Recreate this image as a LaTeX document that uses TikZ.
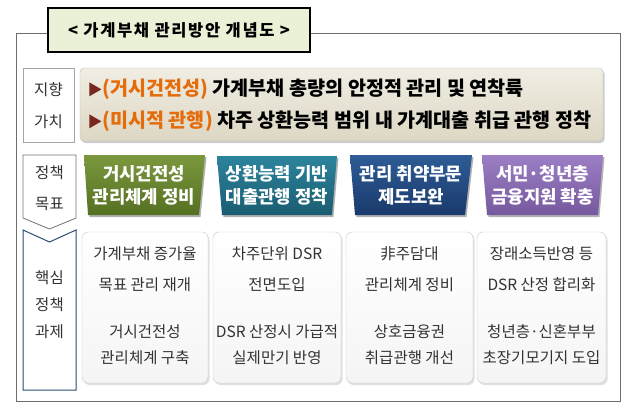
\documentclass[tikz,border=0pt]{standalone}
\usepackage{fontspec}
\setmainfont{Noto Sans CJK KR}
\newfontfamily\titlefont[LetterSpace=10]{Noto Sans CJK KR}
\usepackage{xcolor}
\usetikzlibrary{positioning}
\definecolor{titlegreen}{RGB}{235,241,214}
\definecolor{framegray}{RGB}{110,110,110}
\definecolor{bannertop}{RGB}{240,237,227}
\definecolor{bannerbot}{RGB}{221,215,196}
\definecolor{markred}{RGB}{120,40,30}
\definecolor{tagorange}{RGB}{228,108,10}
\definecolor{txtgray}{RGB}{50,50,50}
\definecolor{labelblue}{RGB}{45,75,115}
\definecolor{macrotop}{RGB}{124,152,62}
\definecolor{macrobot}{RGB}{84,112,34}
\definecolor{loantop}{RGB}{44,132,156}
\definecolor{loanbot}{RGB}{26,92,114}
\definecolor{weaktop}{RGB}{46,92,150}
\definecolor{weakbot}{RGB}{26,58,108}
\definecolor{youthtop}{RGB}{156,126,196}
\definecolor{youthbot}{RGB}{118,88,158}
\newcommand{\valmark}{{\color{markred}\fontsize{15}{20}\selectfont▶}}
\tikzset{
  % 그림자
  shadowed/.style={preaction={fill=black, opacity=#1, transform canvas={shift={(1.5pt,-2pt)}}}},
  shadowed/.default=0.3,
  % 제목 상자
  titlebox/.style={
    draw=black,
    line width=1.2pt,
    fill=titlegreen,
    minimum width=262pt,
    minimum height=44pt,
    font=\titlefont\fontsize{16.5}{18}\selectfont\bfseries
  },
  % 왼쪽 구분 라벨
  rowlab/.style={text=txtgray, align=center},
  % 지향가치 띠
  banner/.style={
    draw=black!25,
    rounded corners=4pt,
    top color=bannertop,
    bottom color=bannerbot,
    minimum width=523pt,
    minimum height=73pt,
    shadowed=0.2
  },
  vline/.style={anchor=west, font=\fontsize{19.6}{20}\selectfont\bfseries},
  % 정책목표 글자
  goaltext/.style={
    align=center,
    text=white,
    font=\fontsize{17.8}{23}\selectfont\bfseries
  },
  % 핵심과제 카드
  card/.style={
    draw=black!22,
    rounded corners=6pt,
    top color=white,
    bottom color=black!4,
    minimum height=151pt,
    shadowed=0.12
  },
  task/.style={text=txtgray, align=center, font=\fontsize{15.5}{31}\selectfont},
  task2/.style={task, font=\fontsize{15.5}{26}\selectfont},
}

\begin{document}
\begin{tikzpicture}[x=1pt, y=-1pt]
    \useasboundingbox (0,0) rectangle (640,415);

    % 바깥 틀과 제목
    \draw[framegray, line width=0.8pt] (16,33) rectangle (620,401);
    \node[titlebox] (title) at (179,30) {< 가계부채 관리방안 개념도 >};

    % Row 1: 지향가치
    \draw[black!35, fill=white] (23,68) rectangle (74,142);
    \node[rowlab, font=\fontsize{15.5}{32}\selectfont] (lab1) at (48.5,106) {지향\\가치};
    \node[banner] (vals) at (341.5,104.5) {};
    \node[vline] (v1) at (84,89) {\valmark{\color{tagorange}(거시건전성)} 가계부채 총량의 안정적 관리 및 연착륙};
    \node[vline] (v2) at (84,121) {\valmark{\color{tagorange}(미시적 관행)} 차주 상환능력 범위 내 가계대출 취급 관행 정착};

    % Row 2: 정책목표
    \draw[black!55, line width=0.8pt, fill=white] (23,155) -- (76,155) -- (76,218) -- (49.5,229) -- (23,218) -- cycle;
    \node[rowlab, font=\fontsize{15.5}{31}\selectfont] (lab2) at (49.5,188) {정책\\목표};
    \shade[top color=macrotop, bottom color=macrobot, shadowed] (84,155) -- (205,155) -- (199,215) -- (88,215) -- cycle;
    \shade[top color=loantop, bottom color=loanbot, shadowed] (217,156) -- (337,156) -- (332,215) -- (222,215) -- cycle;
    \shade[top color=weaktop, bottom color=weakbot, shadowed] (350,155) -- (472,155) -- (465,215) -- (355,215) -- cycle;
    \shade[top color=youthtop, bottom color=youthbot, shadowed] (482,155) -- (603,155) -- (598,215) -- (487,215) -- cycle;
    \node[goaltext] (g1) at (144,185) {거시건전성\\관리체계 정비};
    \node[goaltext] (g2) at (277,185.5) {상환능력 기반\\대출관행 정착};
    \node[goaltext] (g3) at (411,185) {관리 취약부문\\제도보완};
    \node[goaltext] (g4) at (542.5,185) {서민·청년층\\금융지원 확충};

    % Row 3: 핵심정책과제
    \draw[labelblue, line width=1pt, fill=white] (23,230) -- (49.5,242) -- (76,230) -- (76,390) -- (23,390) -- cycle;
    \node[rowlab, font=\fontsize{15.5}{27}\selectfont] (lab3) at (49.5,305) {핵심\\정책\\과제};

    \node[card, minimum width=126pt] (c1) at (145,307.5) {};
    \node[task] (c1a) at (145,269) {가계부채 증가율\\목표 관리 재개};
    \node[task2] (c1b) at (145,345) {거시건전성\\관리체계 구축};

    \node[card, minimum width=128pt] (c2) at (277,307.5) {};
    \node[task] (c2a) at (277,269) {차주단위 DSR\\전면도입};
    \node[task2] (c2b) at (277,345) {DSR 산정시 가급적\\실제만기 반영};

    \node[card, minimum width=127pt] (c3) at (409.5,307.5) {};
    \node[task] (c3a) at (409.5,269) {非주담대\\관리체계 정비};
    \node[task2] (c3b) at (409.5,345) {상호금융권\\취급관행 개선};

    \node[card, minimum width=129pt] (c4) at (541.5,307.5) {};
    \node[task] (c4a) at (541.5,269) {장래소득반영 등\\DSR 산정 합리화};
    \node[task2] (c4b) at (541.5,345) {청년층·신혼부부\\초장기모기지 도입};
\end{tikzpicture}
\end{document}
